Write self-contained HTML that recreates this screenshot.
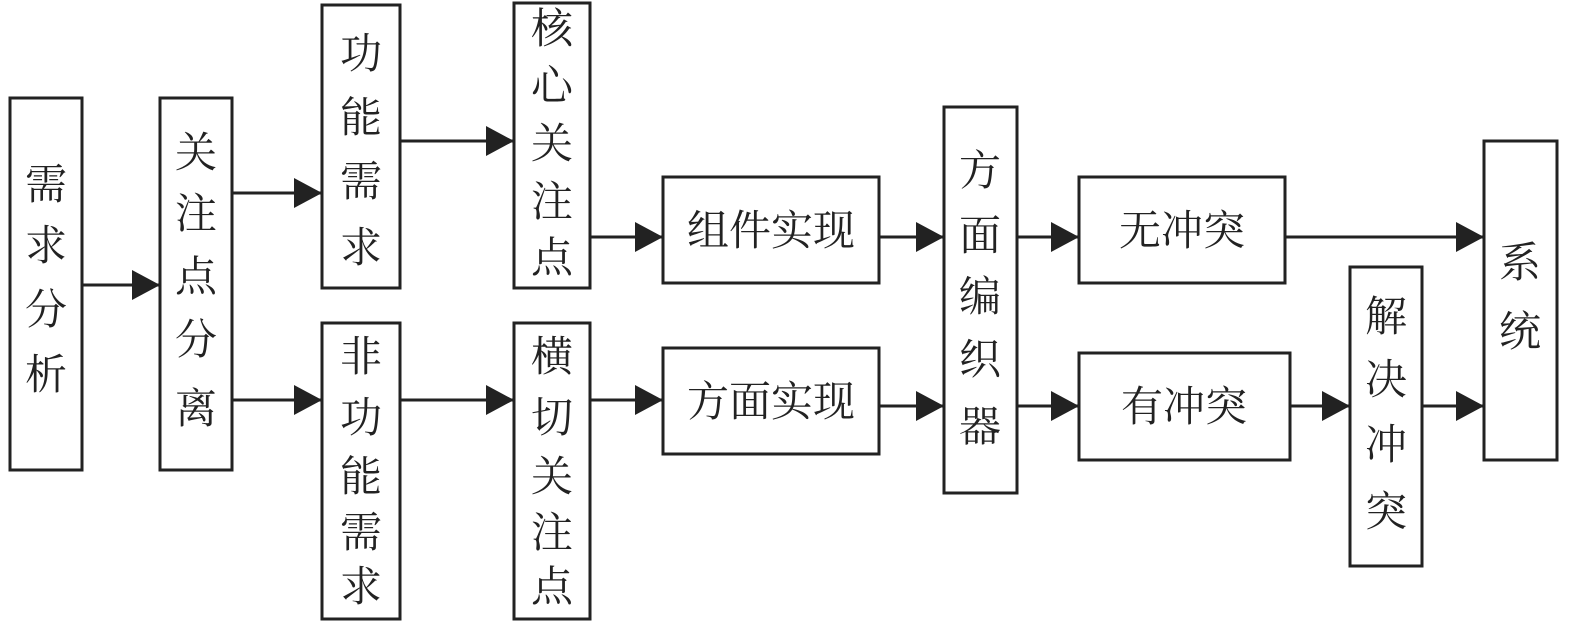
<!DOCTYPE html>
<html><head><meta charset="utf-8"><style>
html,body{margin:0;padding:0;background:#fff;}
svg text{font-family:"Liberation Serif","Noto Serif CJK SC",serif;font-size:42px;fill:#222;text-anchor:middle;dominant-baseline:central;}
</style></head><body>
<svg width="1575" height="624" viewBox="0 0 1575 624" xmlns="http://www.w3.org/2000/svg">
<defs><marker id="a" markerWidth="30" markerHeight="30" refX="28" refY="15" markerUnits="userSpaceOnUse" orient="auto"><path d="M0,0 L28,15 L0,30 Z" fill="#222"/></marker></defs>
<g fill="none" stroke="#222" stroke-width="3">
<rect x="10" y="98" width="72" height="372"/>
<rect x="160" y="98" width="72" height="372"/>
<rect x="322" y="5" width="78" height="283"/>
<rect x="322" y="323" width="78" height="296"/>
<rect x="514" y="3" width="76" height="285"/>
<rect x="514" y="323" width="76" height="296"/>
<rect x="663" y="177" width="216" height="106"/>
<rect x="663" y="348" width="216" height="106"/>
<rect x="944" y="107" width="73" height="386"/>
<rect x="1079" y="177" width="206" height="106"/>
<rect x="1079" y="353" width="211" height="107"/>
<rect x="1350" y="267" width="72" height="299"/>
<rect x="1484" y="141" width="73" height="319"/>
</g>
<g stroke="#222" stroke-width="3" marker-end="url(#a)">
<line x1="82" y1="285" x2="160" y2="285"/>
<line x1="232" y1="193" x2="322" y2="193"/>
<line x1="232" y1="400" x2="322" y2="400"/>
<line x1="400" y1="141" x2="514" y2="141"/>
<line x1="400" y1="400" x2="514" y2="400"/>
<line x1="590" y1="237" x2="663" y2="237"/>
<line x1="590" y1="400" x2="663" y2="400"/>
<line x1="879" y1="237" x2="944" y2="237"/>
<line x1="879" y1="406" x2="944" y2="406"/>
<line x1="1017" y1="237" x2="1079" y2="237"/>
<line x1="1017" y1="406" x2="1079" y2="406"/>
<line x1="1285" y1="237" x2="1484" y2="237"/>
<line x1="1290" y1="406" x2="1350" y2="406"/>
<line x1="1422" y1="406" x2="1484" y2="406"/>
</g>
<text x="46" y="186">需</text><text x="46" y="247">求</text><text x="46" y="311">分</text><text x="46" y="376">析</text>
<text x="196" y="154">关</text><text x="196" y="215">注</text><text x="196" y="278">点</text><text x="196" y="341">分</text><text x="196" y="410">离</text>
<text x="361" y="55">功</text><text x="361" y="119">能</text><text x="361" y="183">需</text><text x="361" y="249">求</text>
<text x="552" y="30">核</text><text x="552" y="87">心</text><text x="552" y="145">关</text><text x="552" y="203">注</text><text x="552" y="259">点</text>
<text x="361" y="358">非</text><text x="361" y="419">功</text><text x="361" y="478">能</text><text x="361" y="534">需</text><text x="361" y="588">求</text>
<text x="552" y="358">横</text><text x="552" y="419">切</text><text x="552" y="478">关</text><text x="552" y="534">注</text><text x="552" y="588">点</text>
<text x="771" y="232">组件实现</text>
<text x="771" y="403">方面实现</text>
<text x="980" y="172">方</text><text x="980" y="237">面</text><text x="980" y="298">编</text><text x="980" y="361">织</text><text x="980" y="428">器</text>
<text x="1182" y="232">无冲突</text>
<text x="1184" y="408">有冲突</text>
<text x="1386" y="318">解</text><text x="1386" y="381">决</text><text x="1386" y="446">冲</text><text x="1386" y="513">突</text>
<text x="1520" y="264">系</text><text x="1520" y="333">统</text>
</svg>
</body></html>
